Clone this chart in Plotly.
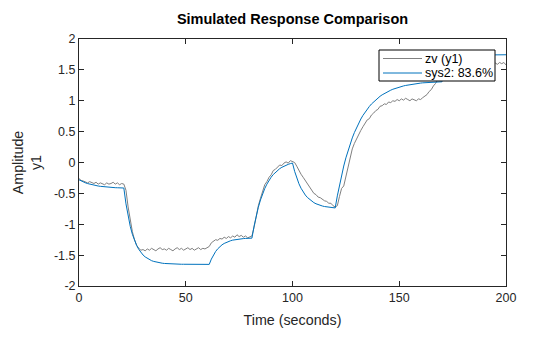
import plotly.graph_objects as go

# Time base (seconds)
time_s = list(range(0, 201))

zv_y1 = [
    -0.26, -0.29, -0.30, -0.31, -0.33, -0.31, -0.33, -0.34, -0.32, -0.35,
    -0.33, -0.34, -0.36, -0.33, -0.35, -0.34, -0.32, -0.35, -0.33, -0.36,
    -0.34, -0.35, -0.45, -0.72, -0.93, -1.12, -1.25, -1.34, -1.39, -1.42,
    -1.41, -1.43, -1.40, -1.42, -1.39, -1.41, -1.43, -1.40, -1.38, -1.41,
    -1.40, -1.42, -1.39, -1.41, -1.43, -1.40, -1.38, -1.41, -1.39, -1.42,
    -1.40, -1.38, -1.41, -1.39, -1.42, -1.40, -1.38, -1.41, -1.39, -1.40,
    -1.38, -1.36, -1.30, -1.27, -1.25, -1.26, -1.23, -1.24, -1.21, -1.23,
    -1.20, -1.22, -1.19, -1.21, -1.17, -1.20, -1.18, -1.21, -1.19, -1.22,
    -1.20, -1.19, -1.05, -0.86, -0.70, -0.58, -0.46, -0.36, -0.31, -0.24,
    -0.20, -0.13, -0.11, -0.07, -0.04, -0.05, -0.01, 0.01, -0.01, 0.03,
    0.02, 0.00, -0.06, -0.13, -0.19, -0.24, -0.29, -0.36, -0.41, -0.46,
    -0.50, -0.52, -0.56, -0.57, -0.60, -0.62, -0.63, -0.66, -0.66, -0.70,
    -0.72, -0.70, -0.55, -0.42, -0.38, -0.22, -0.07, 0.10, 0.22, 0.31,
    0.39, 0.45, 0.52, 0.58, 0.63, 0.69, 0.71, 0.77, 0.80, 0.84,
    0.86, 0.91, 0.92, 0.95, 0.94, 0.98, 0.97, 1.00, 0.99, 1.02,
    1.00, 1.03, 1.01, 1.04, 1.02, 1.00, 1.03, 1.01, 1.00, 1.03,
    1.02, 1.05, 1.07, 1.10, 1.15, 1.18, 1.24, 1.28, 1.34, 1.38,
    1.44, 1.47, 1.49, 1.50, 1.52, 1.51, 1.53, 1.52, 1.54, 1.53,
    1.55, 1.54, 1.56, 1.55, 1.57, 1.56, 1.58, 1.56, 1.57, 1.59,
    1.58, 1.60, 1.58, 1.60, 1.59, 1.61, 1.59, 1.62, 1.60, 1.62,
    1.58,
]

# Simulated model output sys2 (1 s spacing)
sys2 = [
    -0.280, -0.299, -0.315, -0.329, -0.341, -0.351, -0.361, -0.368, -0.375, -0.381,
    -0.386, -0.391, -0.395, -0.398, -0.401, -0.404, -0.406, -0.408, -0.409, -0.411,
    -0.412, -0.413, -0.670, -0.873, -1.034, -1.162, -1.263, -1.344, -1.407, -1.458,
    -1.498, -1.529, -1.554, -1.574, -1.590, -1.602, -1.612, -1.620, -1.626, -1.631,
    -1.635, -1.638, -1.641, -1.643, -1.644, -1.645, -1.646, -1.647, -1.648, -1.648,
    -1.649, -1.649, -1.649, -1.650, -1.650, -1.650, -1.650, -1.650, -1.650, -1.650,
    -1.650, -1.650, -1.564, -1.496, -1.441, -1.397, -1.362, -1.333, -1.311, -1.293,
    -1.278, -1.267, -1.257, -1.250, -1.244, -1.239, -1.235, -1.232, -1.230, -1.228,
    -1.226, -1.225, -1.030, -0.865, -0.725, -0.607, -0.507, -0.422, -0.351, -0.290,
    -0.238, -0.195, -0.158, -0.127, -0.100, -0.078, -0.059, -0.043, -0.030, -0.018,
    -0.009, -0.143, -0.253, -0.343, -0.417, -0.477, -0.527, -0.567, -0.600, -0.628,
    -0.650, -0.668, -0.683, -0.695, -0.705, -0.713, -0.720, -0.725, -0.730, -0.733,
    -0.736, -0.540, -0.363, -0.202, -0.057, 0.075, 0.194, 0.301, 0.398, 0.486,
    0.566, 0.638, 0.704, 0.763, 0.816, 0.864, 0.908, 0.948, 0.983, 1.016,
    1.045, 1.072, 1.096, 1.117, 1.137, 1.155, 1.171, 1.186, 1.199, 1.211,
    1.221, 1.231, 1.240, 1.248, 1.255, 1.262, 1.268, 1.273, 1.278, 1.282,
    1.286, 1.290, 1.293, 1.296, 1.298, 1.300, 1.302, 1.304, 1.305, 1.306,
    1.307, 1.387, 1.452, 1.506, 1.549, 1.585, 1.615, 1.639, 1.658, 1.674,
    1.688, 1.698, 1.707, 1.714, 1.720, 1.725, 1.729, 1.732, 1.735, 1.737,
    1.739, 1.740, 1.741, 1.742, 1.742, 1.743, 1.743, 1.744, 1.744, 1.744,
    1.745,
]

x_ticks = [0, 50, 100, 150, 200]
y_ticks = [-2, -1.5, -1, -0.5, 0, 0.5, 1, 1.5, 2]
y_tick_text = ["-2", "-1.5", "-1", "-0.5", "0", "0.5", "1", "1.5", "2"]

series_names = ["zv (y1)", "sys2: 83.6%"]
series_colors = ["#808080", "#0072BD"]

FONT = "Liberation Sans, Arial, sans-serif"
AX = "#262626"

# plot-area pixel geometry (for converting legend placement to paper coords)
PL, PR, PT, PB = 79, 506, 39, 286
def px_x(p):
    return (p - PL) / (PR - PL)
def px_y(p):
    return (PB - p) / (PB - PT)

fig = go.Figure()
for yv, nm, col in zip([zv_y1, sys2], series_names, series_colors):
    fig.add_trace(go.Scatter(x=time_s, y=yv, mode="lines", name=nm,
                             line=dict(color=col, width=1), showlegend=False))

# compact MATLAB-style legend box (opaque white background drawn first)
shapes = [
    dict(type="rect", xref="paper", yref="paper", layer="above",
         x0=px_x(379), x1=px_x(495), y0=px_y(81), y1=px_y(50),
         line=dict(width=0), fillcolor="rgb(255,255,255)", opacity=1),
    dict(type="rect", xref="paper", yref="paper", layer="above",
         x0=px_x(379), x1=px_x(495), y0=px_y(81), y1=px_y(50),
         line=dict(color="#000000", width=1), fillcolor="rgba(0,0,0,0)"),
]
annotations = []
rows_px = [58.5, 73.0]
for nm, col, ry in zip(series_names, series_colors, rows_px):
    shapes.append(dict(type="line", xref="paper", yref="paper", layer="above",
                       x0=px_x(383), x1=px_x(422), y0=px_y(ry), y1=px_y(ry),
                       line=dict(color=col, width=1)))
    annotations.append(dict(xref="paper", yref="paper", x=px_x(423), y=px_y(ry),
                            xanchor="left", yanchor="middle", text=nm, showarrow=False,
                            font=dict(family=FONT, size=12.5, color="#000000")))

fig.update_layout(
    width=560, height=337,
    margin=dict(l=PL, r=560 - PR, t=PT, b=337 - PB),
    paper_bgcolor="white", plot_bgcolor="white",
    font=dict(family=FONT, size=12.5, color=AX),
    title=dict(text="<b>Simulated Response Comparison</b>",
               x=(PL + PR) / 2 / 560, xanchor="center",
               y=1 - 19 / 337, yanchor="middle",
               font=dict(family=FONT, size=14.5, color="#000000")),
    showlegend=False,
    shapes=shapes,
    annotations=annotations,
)
fig.update_xaxes(range=[0, 200], tickvals=x_ticks, ticks="inside", ticklen=5,
                 tickcolor=AX, showline=True, linecolor=AX, linewidth=1,
                 mirror="allticks", showgrid=False, zeroline=False,
                 tickfont=dict(family=FONT, size=12.5, color=AX),
                 title=dict(text="Time (seconds)", standoff=10,
                            font=dict(family=FONT, size=14.3, color=AX)))
fig.update_yaxes(range=[-2, 2], tickvals=y_ticks, ticktext=y_tick_text,
                 ticks="inside", ticklen=5,
                 tickcolor=AX, showline=True, linecolor=AX, linewidth=1,
                 mirror="allticks", showgrid=False, zeroline=False,
                 tickfont=dict(family=FONT, size=12.5, color=AX),
                 title=dict(text="Amplitude<br>y1", standoff=8,
                            font=dict(family=FONT, size=14.3, color=AX)))

fig.write_html("out.html")
